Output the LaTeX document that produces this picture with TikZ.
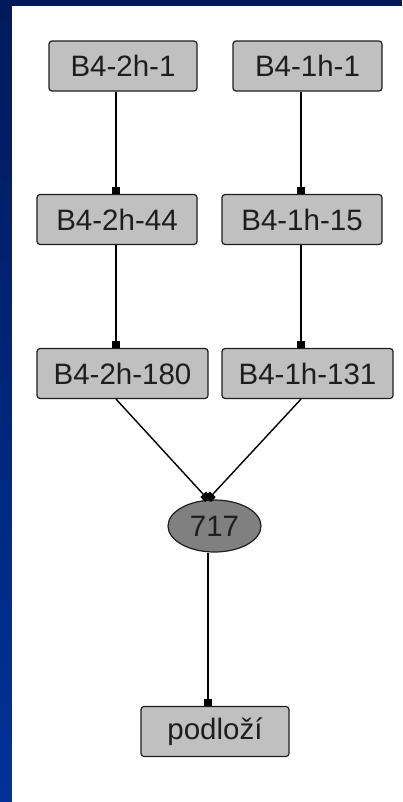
\documentclass[tikz,border=0pt]{standalone}
\usepackage{fontspec}
\setmainfont{Liberation Sans}
\usetikzlibrary{arrows.meta,shapes.geometric}
\definecolor{navytop}{HTML}{001A5C}
\definecolor{navybot}{HTML}{003399}
\definecolor{boxgray}{HTML}{C0C0C0}
\definecolor{ovalgray}{HTML}{808080}
\definecolor{inkgray}{HTML}{1E1E1E}
\tikzset{
	layer/.style={draw=inkgray, line width=1.2pt, fill=boxgray, rounded corners=3pt, minimum height=50pt, inner sep=0pt, text=inkgray, font=\fontsize{29.5}{32}\selectfont},
	oval/.style={ellipse, draw=inkgray, line width=1.2pt, fill=ovalgray, minimum width=93pt, minimum height=52pt, inner sep=0pt, text=inkgray, font=\fontsize{29.5}{32}\selectfont},
	link/.style={draw=black, line width=1.4pt, -{Square[length=7pt, width=8pt]}}
}
\begin{document}
\begin{tikzpicture}[x=1pt, y=-1pt]
		\useasboundingbox (0, 0) rectangle (402, 802);
		\foreach \k in {0, ..., 39} {
			\pgfmathsetmacro{\mix}{100-2.5*\k}
			\fill[navytop!\mix!navybot] (0, 20.05*\k) rectangle (402, 20.05*\k+20.6);
		}
		\fill[white] (12, 6) rectangle (402, 802);
		% columns of the connectors
		\coordinate (colL) at (116, 0);
		\coordinate (colR) at (301, 0);
		\coordinate (colM) at (208, 0);
		% sequence 2h
		\node[layer, minimum width=148pt] (b2h1) at (123, 66) {B4-2h-1};
		\node[layer, minimum width=160pt] (b2h44) at (117, 219.5) {B4-2h-44};
		\node[layer, minimum width=171pt] (b2h180) at (122.5, 373.5) {B4-2h-180};
		% sequence 1h
		\node[layer, minimum width=149pt] (b1h1) at (307.5, 66) {B4-1h-1};
		\node[layer, minimum width=160pt] (b1h15) at (302, 219.5) {B4-1h-15};
		\node[layer, minimum width=171pt] (b1h131) at (307.5, 373.5) {B4-1h-131};
		\node[oval] (n717) at (214.5, 526) {717};
		\node[layer, minimum width=148pt] (podlozi) at (215, 731.5) {podloží};
		\draw[link] (b2h1.south -| colL) -- (b2h44.north -| colL);
		\draw[link] (b2h44.south -| colL) -- (b2h180.north -| colL);
		\draw[link] (b1h1.south -| colR) -- (b1h15.north -| colR);
		\draw[link] (b1h15.south -| colR) -- (b1h131.north -| colR);
		\draw[link] (b2h180.south -| colL) -- (n717.north -| colM);
		\draw[link] (b1h131.south -| colR) -- (n717.north -| colM);
		\draw[link] (n717.south -| colM) -- (podlozi.north -| colM);
	\end{tikzpicture}
\end{document}
